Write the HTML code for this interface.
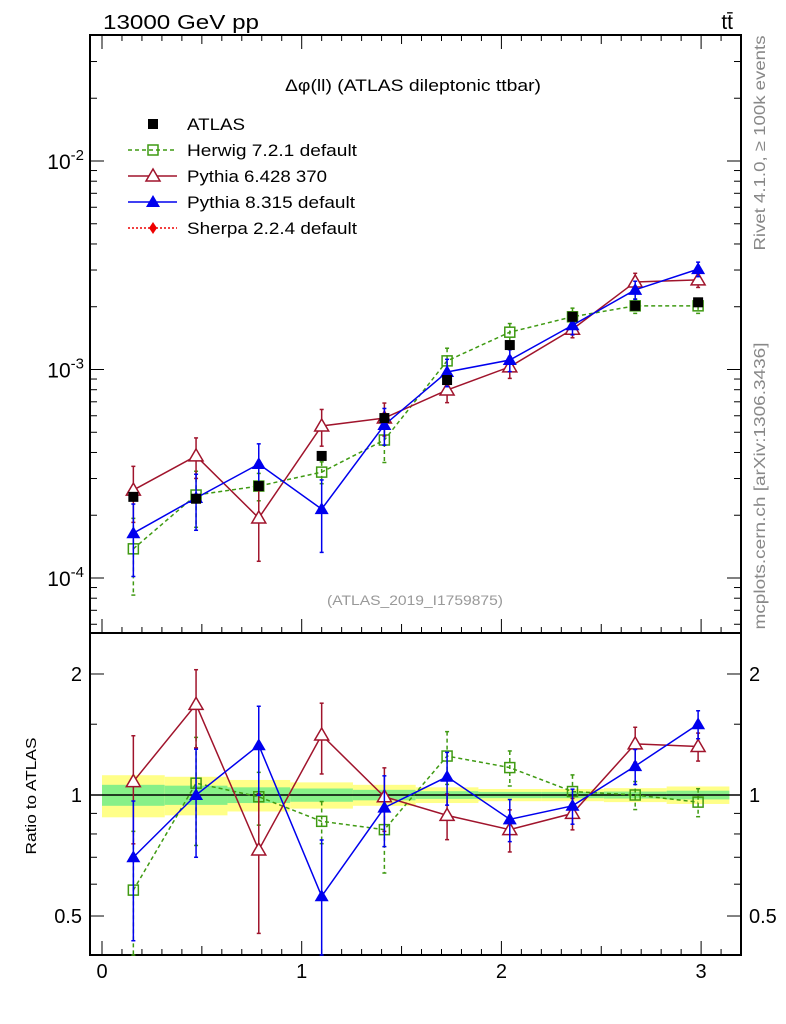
<!DOCTYPE html>
<html><head><meta charset="utf-8"><style>
body{margin:0;background:#fff}
svg{display:block;font-family:"Liberation Sans",sans-serif}
</style></head><body>
<svg id="c" width="786" height="1024" viewBox="0 0 786 1024" xmlns="http://www.w3.org/2000/svg">
<text x="103" y="29" font-size="20" textLength="156" lengthAdjust="spacingAndGlyphs">13000 GeV pp</text>
<text x="733" y="29" font-size="21" text-anchor="end">tt̄</text>
<text x="413" y="91" font-size="17" text-anchor="middle" textLength="256" lengthAdjust="spacingAndGlyphs">Δφ(ll) (ATLAS dileptonic ttbar)</text>
<text x="415" y="605" font-size="14" fill="#999" text-anchor="middle" textLength="176" lengthAdjust="spacingAndGlyphs">(ATLAS_2019_I1759875)</text>
<text transform="translate(765,143) rotate(-90)" font-size="16" fill="#888" text-anchor="middle" textLength="215" lengthAdjust="spacingAndGlyphs">Rivet 4.1.0, ≥ 100k events</text>
<text transform="translate(765,486) rotate(-90)" font-size="16" fill="#888" text-anchor="middle" textLength="287" lengthAdjust="spacingAndGlyphs">mcplots.cern.ch [arXiv:1306.3436]</text>
<text transform="translate(36,796) rotate(-90)" font-size="15" text-anchor="middle" textLength="117" lengthAdjust="spacingAndGlyphs">Ratio to ATLAS</text>
<g id="g"></g>
</svg>
<script>
const binCenters=[0.157,0.471,0.785,1.100,1.414,1.728,2.042,2.356,2.670,2.985];
const atlasVals=[2.45e-4,2.4e-4,2.76e-4,3.85e-4,5.85e-4,8.9e-4,1.31e-3,1.79e-3,2.02e-3,2.1e-3];
const atlasErr=[0.05,0.05,0.05,0.05,0.05,0.05,0.04,0.04,0.04,0.04];
const herwigVals=[1.38e-4,2.5e-4,2.76e-4,3.22e-4,4.59e-4,1.1e-3,1.51e-3,1.79e-3,2.02e-3,2.02e-3];
const herwigErr=[0.4,0.3,0.15,0.12,0.22,0.15,0.1,0.1,0.08,0.08];
const py6Vals=[2.64e-4,3.85e-4,1.94e-4,5.36e-4,5.85e-4,7.97e-4,1.03e-3,1.56e-3,2.63e-3,2.69e-3];
const py6Err=[0.3,0.22,0.38,0.2,0.18,0.13,0.12,0.09,0.1,0.08];
const py8Vals=[1.64e-4,2.42e-4,3.52e-4,2.14e-4,5.42e-4,9.73e-4,1.11e-3,1.63e-3,2.41e-3,3.03e-3];
const py8Err=[0.38,0.3,0.25,0.38,0.2,0.15,0.12,0.1,0.1,0.08];
const herwigRatio=[0.58,1.07,0.99,0.86,0.82,1.25,1.17,1.02,1.0,0.96];
const py6Ratio=[1.08,1.68,0.73,1.41,0.99,0.89,0.82,0.90,1.34,1.32];
const py8Ratio=[0.70,1.0,1.33,0.56,0.93,1.11,0.87,0.94,1.18,1.5];
const bandYellow=[0.12,0.11,0.09,0.075,0.06,0.045,0.035,0.035,0.04,0.05];
const bandGreen=[0.06,0.055,0.045,0.038,0.03,0.022,0.018,0.018,0.02,0.025];
const xTickLabels=[0,1,2,3];

const NS="http://www.w3.org/2000/svg", G=document.getElementById('g');
const L=90,R=741,T1=35,B1=633,T2=633,B2=955;
const sx=v=>102+v*199.7;
const sy=v=>161-(Math.log10(v)+2)*208.5;
const sr=v=>795-Math.log10(v)*402;
const binW=Math.PI/10;
function el(t,a,n){const e=document.createElementNS(NS,t);for(const k in a)e.setAttribute(k,a[k]);G.appendChild(e);


return e;}

for(let i=0;i<10;i++){
 const x0=sx(i*binW),x1=sx((i+1)*binW);
 el('rect',{x:x0,y:sr(1+bandYellow[i]),width:x1-x0,height:sr(1-bandYellow[i])-sr(1+bandYellow[i]),fill:'#ffff88'},'band-yellow');
 el('rect',{x:x0,y:sr(1+bandGreen[i]),width:x1-x0,height:sr(1-bandGreen[i])-sr(1+bandGreen[i]),fill:'#88f088'},'band-green');
}
el('line',{x1:L,x2:R,y1:sr(1),y2:sr(1),stroke:'#000','stroke-width':1.5},'ratio-unity-line');

el('rect',{x:L,y:T1,width:R-L,height:B1-T1,fill:'none',stroke:'#000','stroke-width':2},'main-frame');
el('rect',{x:L,y:T2,width:R-L,height:B2-T2,fill:'none',stroke:'#000','stroke-width':2},'ratio-frame');

for(let d=-5;d<=-1;d++)for(let m=1;m<10;m++){
 const v=m*Math.pow(10,d),y=sy(v);if(y<T1||y>B1)continue;
 const len=m==1?14:7;
 el('line',{x1:L,x2:L+len,y1:y,y2:y,stroke:'#000'},'y-tick');
 el('line',{x1:R-len,x2:R,y1:y,y2:y,stroke:'#000'},'y-tick');
 if(m==1){const t=el('text',{x:L-6,y:y+8,'font-size':21,'text-anchor':'end'},'y-tick-label');
  t.innerHTML='10<tspan dy="-9" font-size="15">'+d+'</tspan>';}
}
[0.5,0.6,0.7,0.8,0.9,1,1.5,2].forEach(v=>{const y=sr(v);const maj=[0.5,1,2].includes(v);const len=maj?14:7;
 el('line',{x1:L,x2:L+len,y1:y,y2:y,stroke:'#000'},'ratio-tick');
 el('line',{x1:R-len,x2:R,y1:y,y2:y,stroke:'#000'},'ratio-tick');
 if(maj){el('text',{x:L-8,y:y+7,'font-size':20,'text-anchor':'end'},'ratio-tick-label').textContent=v;
  el('text',{x:R+8,y:y+7,'font-size':20},'ratio-tick-label').textContent=v;}
});
for(let k=0;k<=31;k++){const v=k/10,x=sx(v);const maj=k%10==0,len=maj?14:(k%5==0?9:6);
 [B1,B2].forEach(b=>{el('line',{x1:x,x2:x,y1:b,y2:b-len,stroke:'#000'},'x-tick');});
 el('line',{x1:x,x2:x,y1:T1,y2:T1+len,stroke:'#000'},'x-tick');
}
xTickLabels.forEach(v=>{el('text',{x:sx(v),y:978,'font-size':20,'text-anchor':'middle'},'x-tick-label').textContent=v;});

function marker(type,x,y,col){
 if(type=='sq')el('rect',{x:x-5,y:y-5,width:10,height:10,fill:'none',stroke:col,'stroke-width':1.5},'marker-square');
 if(type=='fsq')el('rect',{x:x-5,y:y-5,width:10,height:10,fill:col},'marker-filled-square');
 if(type=='tri')el('polygon',{points:`${x},${y-7} ${x-7},${y+5} ${x+7},${y+5}`,fill:'#fff',stroke:col,'stroke-width':1.5},'marker-triangle');
 if(type=='ftri')el('polygon',{points:`${x},${y-7} ${x-7},${y+5} ${x+7},${y+5}`,fill:col},'marker-filled-triangle');
 if(type=='dia')el('polygon',{points:`${x},${y-6} ${x-4},${y} ${x},${y+6} ${x+4},${y}`,fill:col},'marker-diamond');
}
function series(vals,errs,ys,col,dash,type,name,top,bot){
 const pts=vals.map((v,i)=>[sx(binCenters[i]),ys(v)]);
 el('polyline',{points:pts.map(p=>p.join(',')).join(' '),fill:'none',stroke:col,'stroke-width':1.5,'stroke-dasharray':dash},name+'-line');
 vals.forEach((v,i)=>{const x=sx(binCenters[i]);
  let y1=Math.max(top,ys(v*(1+errs[i]))),y2=Math.min(bot,ys(v*(1-errs[i])));
  el('line',{x1:x,x2:x,y1:y1,y2:y2,stroke:col,'stroke-width':1.5,'stroke-dasharray':dash},name+'-errorbar');
  el('line',{x1:x-2,x2:x+2,y1:y1,y2:y1,stroke:col,'stroke-width':1.5},name+'-errcap');
  el('line',{x1:x-2,x2:x+2,y1:y2,y2:y2,stroke:col,'stroke-width':1.5},name+'-errcap');
  marker(type,x,ys(v),col);});
}
const cH='#3f9a12',c6='#a0142c',c8='#0000ee';
series(herwigVals,herwigErr,sy,cH,'4,3','sq','herwig',T1,B1);
series(py6Vals,py6Err,sy,c6,'','tri','pythia6',T1,B1);
series(py8Vals,py8Err,sy,c8,'','ftri','pythia8',T1,B1);
atlasVals.forEach((v,i)=>{const x=sx(binCenters[i]);
 el('line',{x1:x,x2:x,y1:sy(v*(1+atlasErr[i])),y2:sy(v*(1-atlasErr[i])),stroke:'#000','stroke-width':1.5},'atlas-errorbar');
 marker('fsq',x,sy(v),'#000');});
series(herwigRatio,herwigErr,sr,cH,'4,3','sq','herwig-ratio',T2,B2);
series(py6Ratio,py6Err,sr,c6,'','tri','pythia6-ratio',T2,B2);
series(py8Ratio,py8Err,sr,c8,'','ftri','pythia8-ratio',T2,B2);

const leg=[['ATLAS','#000','','fsq',false,58],['Herwig 7.2.1 default',cH,'4,3','sq',true,170],['Pythia 6.428 370',c6,'','tri',true,140],['Pythia 8.315 default',c8,'','ftri',true,168],['Sherpa 2.2.4 default','#ee0000','2,2','dia',true,170]];
leg.forEach((e,i)=>{const y=124+i*26;
 if(e[4])el('line',{x1:128,x2:177,y1:y,y2:y,stroke:e[1],'stroke-width':1.5,'stroke-dasharray':e[2]},'legend-line');
 marker(e[3],153,y,e[1]);
 el('text',{x:187,y:y+6,'font-size':17,textLength:e[5],lengthAdjust:'spacingAndGlyphs'},'legend-entry').textContent=e[0];});
</script>
</body></html>
